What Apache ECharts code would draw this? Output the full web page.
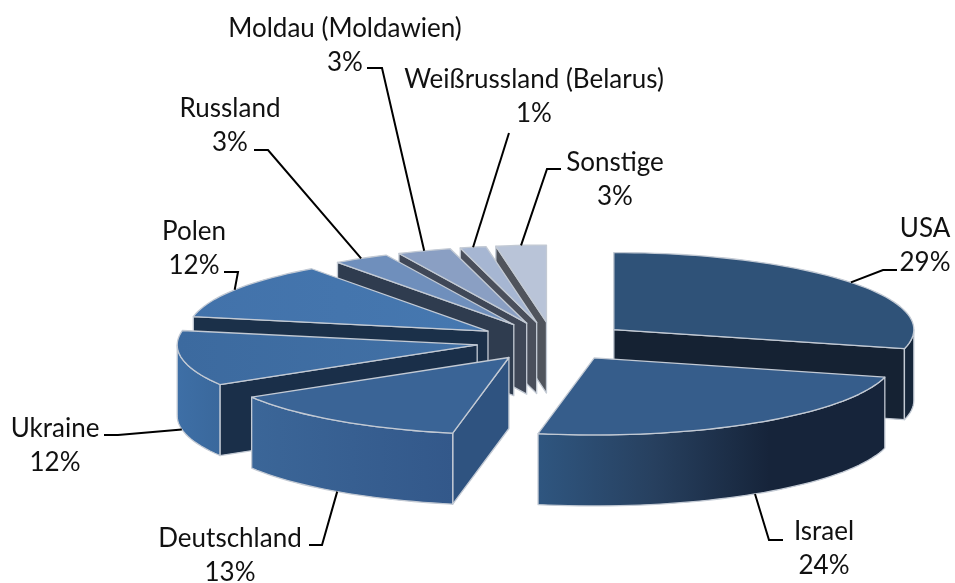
<!DOCTYPE html>
<html>
<head>
<meta charset="utf-8">
<script src="https://cdn.jsdelivr.net/npm/echarts@6/dist/echarts.min.js"></script>
<style>
  html, body { margin: 0; padding: 0; background: #fff; }
  #main { width: 955px; height: 583px; }
</style>
</head>
<body>
<div id="main"></div>
<script>
// clockwise from 12 o'clock
const countries = ['USA', 'Israel', 'Deutschland', 'Ukraine', 'Polen', 'Russland', 'Moldau (Moldawien)', 'Weißrussland (Belarus)', 'Sonstige'];
const shares = [29, 24, 13.4, 11.6, 12, 3.0, 2.9, 1.4, 2.7];

// top, side wall, cut wall
const topColors = ['#2f5278', '#365d8b', '#3a6496', ['#3c6a9f', '#4271a6'], ['#4272aa', '#4678b0'], '#6f8fbc', '#8a9fc3', '#a6b6d2', '#b9c4d8'];
const rimColors = ['#16263a', ['#2f5680', '#27405f', '#16243a', '#16243a'], ['#3b6698', '#33588a'], ['#3e6fa6', '#3a689c'], '#3e6fa6', '#6f8fbc', '#8a9fc3', '#a6b6d2', '#b9c4d8'];
const wallColors = ['#152233', '#152233', '#2f5380', '#1a2f49', '#1b3049', '#2f3c4f', '#3f4757', '#4a4f5b', '#50545c'];

// text centre and the elbow of the leader line
const labelPlaces = [
  { x: 925, y: 246, line: [[883, 270], [897, 270]] },
  { x: 824, y: 549, line: [[769, 540], [783, 540]] },
  { x: 230, y: 556, line: [[322, 545], [309, 545]] },
  { x: 55, y: 446, line: [[118, 435], [104, 435]] },
  { x: 194, y: 249, line: [[238, 272], [224, 272]] },
  { x: 230, y: 126, line: [[268, 150], [254, 150]] },
  { x: 345, y: 46, line: [[382, 68], [367, 68]] },
  { x: 534, y: 97, line: [[509, 133]] },
  { x: 615, y: 180, line: [[547, 169], [561, 169]] }
];

const pie = { cx: 553, cy: 341.5, rx: 300, ry: 77, depth: 71, dx: 77, dy: 19.5 };
const edge = '#c3cad4';
const total = shares.reduce((a, b) => a + b, 0);

function rad(deg) { return deg * Math.PI / 180; }

function rim(apex, deg, drop) {
  return [apex[0] + pie.rx * Math.sin(rad(deg)), apex[1] - pie.ry * Math.cos(rad(deg)) + (drop || 0)];
}

function arc(apex, from, to, drop) {
  let pts = [];
  let n = Math.max(2, Math.ceil((to - from) / 2));
  for (let i = 0; i <= n; i++) {
    pts.push(rim(apex, from + (to - from) * i / n, drop));
  }
  return pts;
}

function paint(c) {
  if (!Array.isArray(c)) return c;
  return new echarts.graphic.LinearGradient(0, 0, 1, 0, c.map((col, i) => ({ offset: i / (c.length - 1), color: col })));
}

function face(points, fill, z2) {
  return {
    type: 'polygon',
    z2: z2,
    shape: { points: points },
    style: { fill: paint(fill), stroke: edge, lineWidth: 1.3, lineJoin: 'round' }
  };
}

let sum = 0;
const slices = shares.map(v => {
  let s = { from: sum / total * 360, to: (sum + v) / total * 360 };
  s.mid = (s.from + s.to) / 2;
  s.apex = [pie.cx + pie.dx * Math.sin(rad(s.mid)), pie.cy - pie.dy * Math.cos(rad(s.mid))];
  sum += v;
  return s;
});

// back slices first
const paintOrder = slices.map((s, i) => i).sort((a, b) => Math.cos(rad(slices[b].mid)) - Math.cos(rad(slices[a].mid)));

function renderSlice(params, api) {
  let i = params.dataIndex;
  let s = slices[i];
  let z = paintOrder.indexOf(i) * 10;
  let d = pie.depth;
  let a = s.apex;
  let bottom = [a[0], a[1] + d];
  let kids = [];
  // only the cut walls that look towards the viewer
  if (Math.sin(rad(s.from)) < 0) {
    kids.push(face([a, rim(a, s.from), rim(a, s.from, d), bottom], wallColors[i], z));
  }
  if (Math.sin(rad(s.to)) > 0) {
    kids.push(face([a, rim(a, s.to), rim(a, s.to, d), bottom], wallColors[i], z));
  }
  let f = Math.max(s.from, 90), t = Math.min(s.to, 270);
  if (f < t) {
    kids.push(face(arc(a, f, t).concat(arc(a, f, t, d).reverse()), rimColors[i], z + 1));
  }
  kids.push(face([a].concat(arc(a, s.from, s.to)), topColors[i], z + 2));
  return { type: 'group', children: kids };
}

function renderLabel(params, api) {
  let i = params.dataIndex;
  let s = slices[i];
  let place = labelPlaces[i];
  let front = s.mid > 90 && s.mid < 270;
  let start = rim(s.apex, s.mid, front ? pie.depth : 0);
  return {
    type: 'group',
    children: [{
      type: 'polyline',
      z2: 200,
      shape: { points: [start].concat(place.line) },
      style: { fill: null, stroke: '#000', lineWidth: 2 }
    }, {
      type: 'text',
      z2: 201,
      style: {
        x: place.x,
        y: place.y,
        text: countries[i] + '\n' + Math.round(shares[i]) + '%',
        align: 'center',
        verticalAlign: 'middle',
        lineHeight: 34,
        fontSize: 26,
        fontFamily: 'Lato',
        fill: '#111'
      }
    }]
  };
}

const myChart = echarts.init(document.getElementById('main'));
const rows = countries.map((c, i) => ({ name: c, value: shares[i] }));

myChart.setOption({
  animation: false,
  backgroundColor: '#fff',
  series: [
    { type: 'custom', coordinateSystem: 'none', renderItem: renderSlice, data: rows, silent: true },
    { type: 'custom', coordinateSystem: 'none', renderItem: renderLabel, data: rows, silent: true, z: 3 }
  ]
});
</script>
</body>
</html>
